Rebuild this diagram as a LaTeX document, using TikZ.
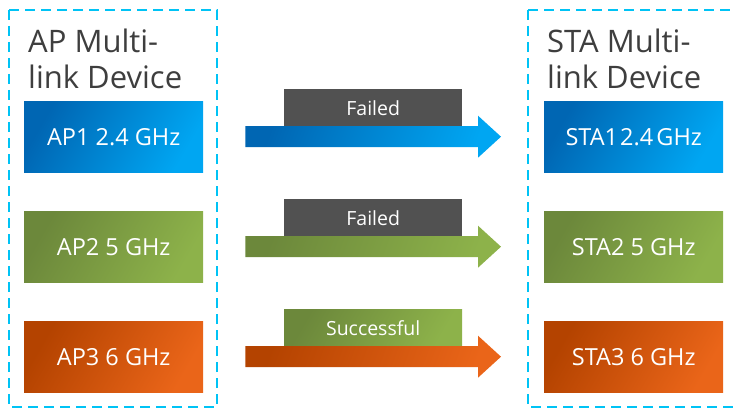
\documentclass[tikz,border=0pt]{standalone}
\usepackage{fontspec}
\setmainfont{Open Sans}
\usetikzlibrary{calc}
\definecolor{dashcyan}{HTML}{00C3F5}
\definecolor{titlegray}{HTML}{3E3E3E}
\definecolor{bluedark}{HTML}{0066B3}
\definecolor{bluelight}{HTML}{00A6F2}
\definecolor{greendark}{HTML}{6C883B}
\definecolor{greenlight}{HTML}{8DB24A}
\definecolor{orangedark}{HTML}{B44300}
\definecolor{orangelight}{HTML}{EA6519}
\definecolor{labelgray}{HTML}{515151}
\tikzset{
  devframe/.style={draw=dashcyan, line width=2.6pt, dash pattern=on 10pt off 6pt},
  title/.style={anchor=north west, align=left, text=titlegray, font=\fontsize{31}{36}\selectfont, inner sep=0pt},
  band/.style={anchor=north west, minimum width=179pt, minimum height=71pt, inner sep=0pt, text=white, font=\fontsize{23.5}{26}\selectfont},
  blueband/.style={left color=bluedark, right color=bluelight, shading angle=60},
  greenband/.style={left color=greendark, right color=greenlight, shading angle=60},
  orangeband/.style={left color=orangedark, right color=orangelight, shading angle=60},
  tag/.style={anchor=north west, minimum width=178pt, minimum height=37pt, inner sep=0pt, text=white, font=\fontsize{19.5}{22}\selectfont},
}
\begin{document}
\begin{tikzpicture}[x=1pt,y=-1pt]
\useasboundingbox (0,0) rectangle (736,409);
% frames
\draw[devframe] (9,10) rectangle (217,407);
\draw[devframe] (528,10) -- (740,10);
\draw[devframe] (528,10) -- (528,407) -- (740,407);
% titles
\node[title] (aptitle) at (28,29) {AP Multi-\\link Device};
\node[title] (statitle) at (547,29) {STA Multi-\\link Device};
% AP bands
\node[band, blueband] (ap1) at (24,101) {AP1 2.4 GHz};
\node[band, greenband] (ap2) at (24,211) {AP2 5 GHz};
\node[band, orangeband] (ap3) at (24,321) {AP3 6 GHz};
% STA bands
\node[band, blueband] (sta1) at (544,101) {STA1\hspace{-4pt} 2.4\hspace{-3pt} GHz};
\node[band, greenband] (sta2) at (544,211) {STA2 5 GHz};
\node[band, orangeband] (sta3) at (544,321) {STA3 6 GHz};
% labels
\node[tag, fill=labelgray] (t1) at (284,89) {Failed};
\node[tag, fill=labelgray] (t2) at (284,199) {Failed};
\node[tag, left color=greendark, right color=greenlight, shading angle=60] (t3) at (284,309) {Successful};
% arrows
\foreach \r/\c in {1/blue,2/green,3/orange}{
  \coordinate (s\r) at ($(ap\r.east)+(42,0)$);
  \coordinate (e\r) at ($(sta\r.west)+(-43,0)$);
  \shade[left color=\c dark, right color=\c light, shading angle=70]
    ($(s\r)+(0,-10.5)$) -- ($(e\r)+(-23,-10.5)$) -- ($(e\r)+(-23,-21)$) -- (e\r)
    -- ($(e\r)+(-23,21)$) -- ($(e\r)+(-23,10.5)$) -- ($(s\r)+(0,10.5)$) -- cycle;
}
\end{tikzpicture}
\end{document}
